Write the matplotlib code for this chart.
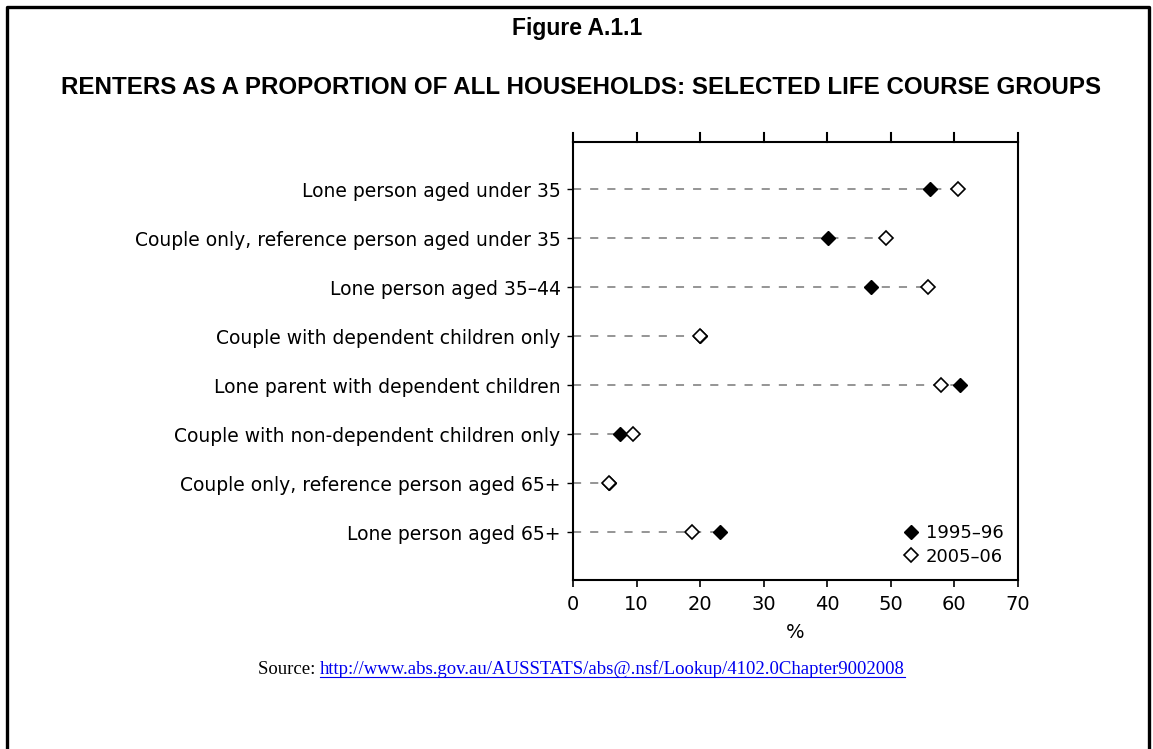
import matplotlib
matplotlib.use('Agg')
import matplotlib.pyplot as plt
from matplotlib.lines import Line2D

categories = [
    'Lone person aged under 35',
    'Couple only, reference person aged under 35',
    'Lone person aged 35\u201344',
    'Couple with dependent children only',
    'Lone parent with dependent children',
    'Couple with non-dependent children only',
    'Couple only, reference person aged 65+',
    'Lone person aged 65+',
]
y1995 = [56.2, 40.1, 46.9, 20.0, 60.9, 7.4, 5.7, 23.1]
y2005 = [60.6, 49.2, 55.8, 20.0, 57.9, 9.4, 5.7, 18.7]
xticks = [0, 10, 20, 30, 40, 50, 60, 70]

W, H = 1153, 749
fig = plt.figure(figsize=(W / 100, H / 100), dpi=100)
fig.patch.set_facecolor('white')

# page border (left, top, right)
fig.add_artist(Line2D([7 / W, 7 / W, 1149 / W, 1149 / W], [0, 1 - 7 / H, 1 - 7 / H, 0],
                      transform=fig.transFigure, color='black', lw=2.4))

fig.text(577 / W, 1 - 28 / H, 'Figure A.1.1', ha='center', va='center',
         fontsize=16.5, fontweight='bold', family='Liberation Sans')
fig.text(581 / W, 1 - 87 / H, 'RENTERS AS A PROPORTION OF ALL HOUSEHOLDS: SELECTED LIFE COURSE GROUPS',
         ha='center', va='center', fontsize=17.4, fontweight='bold', family='Liberation Sans')

ax = fig.add_axes([573 / W, 1 - 580 / H, (1018 - 573) / W, (580 - 142) / H])
ypos = list(range(len(categories)))

for y, a, b in zip(ypos, y1995, y2005):
    ax.plot([0, max(a, b)], [y, y], color='#8c8c8c', lw=1.3, dashes=(4.5, 5), zorder=1)

ax.plot(y1995, ypos, ls='none', marker='D', ms=7, mfc='black', mec='black',
        label='1995\u201396', zorder=3)
ax.plot(y2005, ypos, ls='none', marker='D', ms=7, mfc='white', mec='black', mew=1.2,
        label='2005\u201306', zorder=3)

ax.set_xlim(0, 70)
ax.set_ylim(len(categories) - 1 + 0.97, -0.96)
ax.set_xticks(xticks)
ax.set_yticks(ypos)
ax.set_yticklabels(categories)
ax.tick_params(axis='x', direction='out', length=5, width=1.2, labelsize=14, pad=6)
ax.tick_params(axis='y', direction='out', length=4, width=1, labelsize=13.5, pad=5)
for sp in ax.spines.values():
    sp.set_linewidth(1.5)

# longer ticks above the top spine
for xt in xticks:
    ax.plot([xt, xt], [1.0, 1.0 + 9 / 438], transform=ax.get_xaxis_transform(),
            color='black', lw=1.5, clip_on=False)

ax.set_xlabel('%', fontsize=14, labelpad=6)

ax.legend(loc='lower right', frameon=False, fontsize=13, handlelength=0.8,
          handletextpad=0.4, labelspacing=0.3, borderaxespad=0.4)

# source line: black prefix + blue underlined link
t1 = fig.text(258 / W, 1 - 669 / H, 'Source: ', ha='left', va='center',
              fontsize=13.5, family='Liberation Serif')
fig.canvas.draw()
bb = t1.get_window_extent()
t2 = fig.text(bb.x1 / W, 1 - 669 / H,
              'http://www.abs.gov.au/AUSSTATS/abs@.nsf/Lookup/4102.0Chapter9002008',
              ha='left', va='center', fontsize=13.5, family='Liberation Serif',
              color='#0000EE')
fig.canvas.draw()
bb2 = t2.get_window_extent()
fig.add_artist(Line2D([bb2.x0 / W, bb2.x1 / W], [(bb2.y0 + 1) / H, (bb2.y0 + 1) / H],
                      transform=fig.transFigure, color='#0000EE', lw=0.8))

fig.savefig('out.png', dpi=100)
